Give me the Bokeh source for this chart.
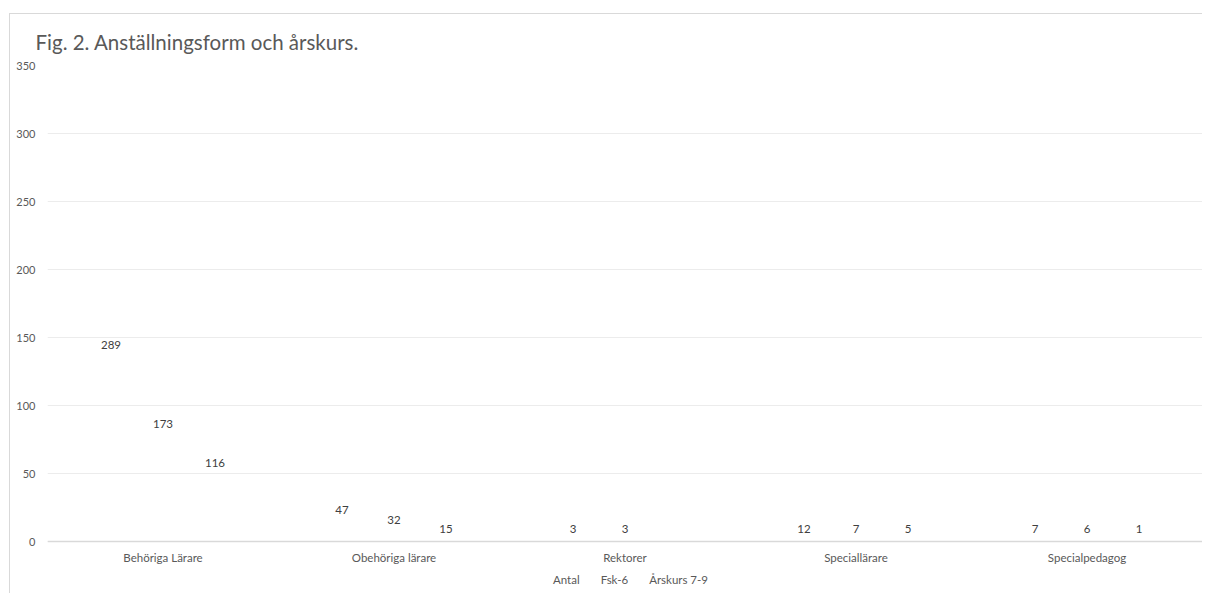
from bokeh.plotting import figure
from bokeh.models import ColumnDataSource, FactorRange, Range1d, Legend, LegendItem, FixedTicker
from bokeh.transform import dodge
from bokeh.embed import file_html
from bokeh.resources import INLINE
from bokeh.core.properties import value

# ---- data ----
categories = ["Behöriga Lärare", "Obehöriga lärare", "Rektorer", "Speciallärare", "Specialpedagog"]
series_names = ["Antal", "Fsk-6", "Årskurs 7-9"]
antal = [289, 47, 3, 12, 7]
fsk6 = [173, 32, 3, 7, 6]
arskurs79 = [116, 15, None, 5, 1]
y_ticks = [0, 50, 100, 150, 200, 250, 300, 350]
title_text = "Fig. 2. Anställningsform och årskurs."

FONT = "Lato"
p = figure(
    x_range=FactorRange(factors=categories, range_padding=0),
    y_range=Range1d(-38.9, 350),
    width=1193, height=580,
    output_backend="svg", toolbar_location=None,
    min_border_left=37, min_border_right=1, min_border_top=51, min_border_bottom=0,
)
p.styles = {"border-top": "1px solid #d9d9d9", "border-left": "1px solid #d9d9d9",
            "margin-top": "13px", "margin-left": "9px"}
p.outline_line_color = None

p.title.text = title_text
p.title.align = "left"
p.title.offset = -12
p.title.text_font = FONT
p.title.text_font_style = "normal"
p.title.text_font_size = "20.5px"
p.title.text_color = "#595959"
p.title.standoff = 24

offsets = [-0.225, 0.0, 0.225]
all_series = [antal, fsk6, arskurs79]
items = []
for name, vals, off in zip(series_names, all_series, offsets):
    cats = [c for c, v in zip(categories, vals) if v is not None]
    vv = [v for v in vals if v is not None]
    src = ColumnDataSource(dict(cat=cats, val=vv,
                                ly=[max(v / 2.0, 9.5) for v in vv],
                                lbl=[str(v) for v in vv]))
    r = p.vbar(x=dodge("cat", off, range=p.x_range), top="val", width=0.2, source=src,
               fill_alpha=0, line_alpha=0)
    p.text(x=dodge("cat", off, range=p.x_range), y="ly", text="lbl", source=src,
           text_align="center", text_baseline="middle", text_font=value(FONT),
           text_font_size="11.5px", text_color="#404040")
    items.append(LegendItem(label=name, renderers=[r]))

p.xgrid.grid_line_color = None
p.ygrid.grid_line_color = "#ececec"
p.ygrid.grid_line_width = 1
p.ygrid.ticker = FixedTicker(ticks=y_ticks)

p.yaxis.ticker = FixedTicker(ticks=y_ticks)
p.yaxis.axis_line_color = None
p.yaxis.major_tick_line_color = None
p.yaxis.minor_tick_line_color = None
p.yaxis.major_label_text_color = "#595959"
p.yaxis.major_label_text_font = FONT
p.yaxis.major_label_text_font_size = "11px"
p.yaxis.major_label_standoff = 6

p.xaxis.fixed_location = 0
p.xaxis.axis_line_color = "#d9d9d9"
p.xaxis.axis_line_width = 1.5
p.xaxis.major_tick_line_color = None
p.xaxis.minor_tick_line_color = None
p.xaxis.major_label_text_color = "#595959"
p.xaxis.major_label_text_font = FONT
p.xaxis.major_label_text_font_size = "11.5px"
p.xaxis.major_label_standoff = 3

legend = Legend(items=items, orientation="horizontal", location="bottom_center",
                border_line_color=None, background_fill_alpha=0,
                label_text_font=FONT, label_text_font_size="11.5px", label_text_color="#595959",
                glyph_width=8, glyph_height=8, label_height=12, label_standoff=4, spacing=9,
                padding=0, margin=8)
p.add_layout(legend)

open("out.html", "w").write(file_html(p, INLINE))
